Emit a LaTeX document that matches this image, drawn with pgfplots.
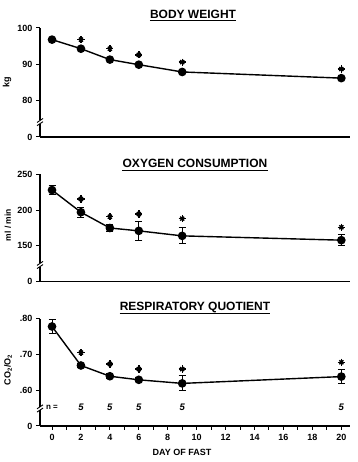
\documentclass[border=0pt]{standalone}
\usepackage{pgfplots}
\pgfplotsset{compat=1.18}
\usepackage{fontspec}
\setmainfont{Liberation Sans}

\pgfplotsset{
  panel/.style={
    scale only axis, width=310pt,
    xmin=-0.83, xmax=20.6,
    axis x line=bottom, axis y line=left,
    axis line style={line width=1.3pt, -},
    y axis line style={draw=none},
    tick style={line width=1pt, black},
    tick align=outside, major tick length=4pt, minor tick length=4pt,
    ticklabel style={font=\bfseries\fontsize{9}{10}\selectfont},
    yticklabel style={xshift=0pt},
    /pgf/number format/assume math mode=true,
    clip=false, anchor=south west,
  },
  dataline/.style={black, line width=1.4pt, mark=*, mark size=3.6pt},
  ebar/.style={error bars/.cd, y dir=both, y explicit,
    error bar style={line width=1pt},
    error mark options={rotate=90, mark size=3.5pt, line width=1pt}},
  star1/.style={only marks, mark=+, mark size=3.6pt, line width=1.4pt, black},
  star2/.style={only marks, mark=x, mark size=2.8pt, line width=1.4pt, black},
}

\newcommand{\yaxisbreak}[3]{% ymin, break, ymax
  \draw[line width=1.3pt] (axis cs:-0.83,#1) -- ([yshift=-1.6pt]axis cs:-0.83,#2);
  \draw[line width=1.3pt] ([yshift=1.6pt]axis cs:-0.83,#2) -- (axis cs:-0.83,#3);
  \draw[line width=0.9pt] ([xshift=-3pt,yshift=-3.6pt]axis cs:-0.83,#2) -- ([xshift=3pt,yshift=0.4pt]axis cs:-0.83,#2);
  \draw[line width=0.9pt] ([xshift=-3pt,yshift=-0.4pt]axis cs:-0.83,#2) -- ([xshift=3pt,yshift=3.6pt]axis cs:-0.83,#2);
}

\begin{document}
\begin{tikzpicture}
\path[use as bounding box] (0pt,0pt) rectangle (357pt,462pt);

% ---------- Panel 1: body weight ----------
\begin{axis}[panel, at={(40pt,325pt)}, height=109pt,
  ymin=70, ymax=100, xtick=\empty,
  ytick={70,80,90,100}, yticklabels={0,80,90,100}]
\addplot[dataline] coordinates {(0,96.8) (2,94.3) (4,91.3) (6,89.9) (9,87.9) (20,86.2)};
\addplot[star1] coordinates {(2,96.8) (4,94.3) (6,92.6) (9,90.6) (20,88.7)};
\addplot[star2] coordinates {(2,96.8) (4,94.3) (6,92.6) (9,90.6) (20,88.7)};
\yaxisbreak{70}{74.1}{100}
\end{axis}

% ---------- Panel 2: oxygen consumption ----------
\begin{axis}[panel, at={(40pt,180.3pt)}, height=107.4pt,
  ymin=100, ymax=250, xtick=\empty,
  ytick={100,150,200,250}, yticklabels={0,150,200,250}]
\addplot[dataline, ebar] coordinates {
  (0,228) +- (0,6)
  (2,197) +- (0,7)
  (4,175) +- (0,5)
  (6,171) +- (0,13)
  (9,164) +- (0,11)
  (20,158) +- (0,8)};
\addplot[star1] coordinates {(2,215.5) (4,190.8) (6,194.5) (9,188) (20,176)};
\addplot[star2] coordinates {(2,215.5) (4,190.8) (6,194.5) (9,188) (20,176)};
\yaxisbreak{100}{123.3}{250}
\end{axis}

% ---------- Panel 3: respiratory quotient ----------
\begin{axis}[panel, at={(40pt,36pt)}, height=107.4pt,
  ymin=0.5, ymax=0.8,
  ytick={0.5,0.6,0.7,0.8}, yticklabels={0,.60,.70,.80},
  xtick={0,2,...,20}, minor xtick={1,3,...,19},
  xticklabel style={yshift=-1pt}]
\addplot[dataline, ebar] coordinates {
  (0,0.778) +- (0,0.02)
  (2,0.669) +- (0,0.006)
  (4,0.639) +- (0,0.007)
  (6,0.629) +- (0,0.006)
  (9,0.619) +- (0,0.021)
  (20,0.638) +- (0,0.019)};
\addplot[star1] coordinates {(2,0.705) (4,0.673) (6,0.659) (9,0.659) (20,0.678)};
\addplot[star2] coordinates {(2,0.705) (4,0.673) (6,0.659) (9,0.659) (20,0.678)};
\yaxisbreak{0.5}{0.549}{0.8}
\node[font=\bfseries\fontsize{8}{9}\selectfont] at (axis cs:0,0.551) {n =};
\node[font=\bfseries\itshape\fontsize{9.5}{10}\selectfont] at (axis cs:2,0.551) {5};
\node[font=\bfseries\itshape\fontsize{9.5}{10}\selectfont] at (axis cs:4,0.551) {5};
\node[font=\bfseries\itshape\fontsize{9.5}{10}\selectfont] at (axis cs:6,0.551) {5};
\node[font=\bfseries\itshape\fontsize{9.5}{10}\selectfont] at (axis cs:9,0.551) {5};
\node[font=\bfseries\itshape\fontsize{9.5}{10}\selectfont] at (axis cs:20,0.551) {5};
\end{axis}

% ---------- titles ----------
\node[anchor=base, inner sep=0pt, font=\bfseries\fontsize{12}{14}\selectfont] (t1) at (193pt,443.7pt) {BODY WEIGHT};
\draw[line width=1.2pt] ([yshift=-2.6pt]t1.base west) -- ([yshift=-2.6pt]t1.base east);
\node[anchor=base, inner sep=0pt, font=\bfseries\fontsize{12}{14}\selectfont] (t2) at (195pt,294.3pt) {OXYGEN CONSUMPTION};
\draw[line width=1.2pt] ([yshift=-2.6pt]t2.base west) -- ([yshift=-2.6pt]t2.base east);
\node[anchor=base, inner sep=0pt, font=\bfseries\fontsize{12}{14}\selectfont] (t3) at (195pt,151pt) {RESPIRATORY QUOTIENT};
\draw[line width=1.2pt] ([yshift=-2.6pt]t3.base west) -- ([yshift=-2.6pt]t3.base east);

% ---------- axis labels ----------
\node[rotate=90, font=\bfseries\fontsize{9}{10}\selectfont] at (7pt,380pt) {kg};
\node[rotate=90, font=\bfseries\fontsize{8.5}{10}\selectfont] at (8pt,237pt) {ml / min};
\node[rotate=90, font=\bfseries\fontsize{9}{10}\selectfont] at (8pt,92pt) {CO\textsubscript{2}/O\textsubscript{2}};
\node[font=\bfseries\fontsize{9}{10}\selectfont] at (182pt,10pt) {DAY OF FAST};
\end{tikzpicture}
\end{document}
